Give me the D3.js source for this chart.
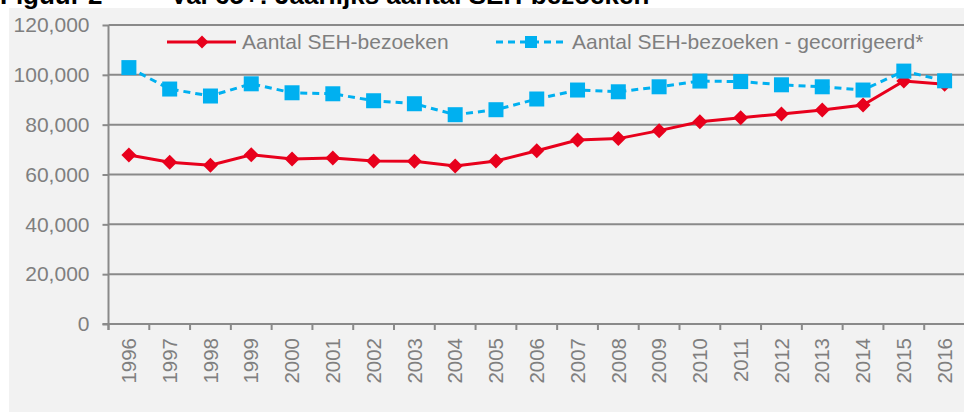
<!DOCTYPE html>
<html><head><meta charset="utf-8">
<script src="https://cdn.jsdelivr.net/npm/d3@7"></script>
<style>html,body{margin:0;padding:0;background:#fff;overflow:hidden}svg{display:block}</style>
</head><body>
<svg id="c" width="964" height="412"></svg>
<script>
const titleParts = ["Figuur 2", "Val 65+: Jaarlijks aantal SEH-bezoeken"];
const years = ["1996","1997","1998","1999","2000","2001","2002","2003","2004","2005","2006","2007","2008","2009","2010","2011","2012","2013","2014","2015","2016"];
const seriesNames = ["Aantal SEH-bezoeken","Aantal SEH-bezoeken - gecorrigeerd*"];
const visits = [67800,64900,63700,67900,66200,66600,65400,65300,63400,65400,69500,73800,74400,77600,81200,82800,84300,85900,87900,97500,96200];
const corrected = [102900,94300,91500,96400,92800,92400,89600,88400,84000,86000,90300,93900,93200,95200,97500,97300,96000,95200,93900,101500,97600];
const yTicks = [0,20000,40000,60000,80000,100000,120000];

const svg = d3.select("#c");
const W = 964, H = 412;
const m = {left:108.5, top:25, right:-1, bottom:88};
const red = "#e8001c", blue = "#00b0f0", grid = "#8a8a8a", txt = "#7f7f7f";
const font = "Liberation Sans, Arial, sans-serif";

svg.append("rect").attr("x",9).attr("y",8).attr("width",W-9).attr("height",H-8).attr("fill","#f2f2f2");
const tt = svg.append("text").attr("y",4).attr("font-family",font).attr("font-weight","bold")
  .attr("font-size",26).attr("fill","#000");
tt.append("tspan").attr("x",0).text(titleParts[0]);
tt.append("tspan").attr("x",163).text(" " + titleParts[1]);

const x = d3.scaleBand().domain(years).range([m.left, W - m.right]).paddingInner(0).paddingOuter(0);
const y = d3.scaleLinear().domain([0,120000]).range([324, m.top]);

// gridlines
svg.append("g").selectAll("line").data(yTicks.filter(d=>d>0)).join("line")
  .attr("x1",m.left).attr("x2",W).attr("y1",d=>y(d)).attr("y2",d=>y(d))
  .attr("stroke",grid).attr("stroke-width",2);

// y axis
const ya = svg.append("g").attr("transform",`translate(${m.left},0)`)
  .call(d3.axisLeft(y).tickValues(yTicks).tickSize(6).tickPadding(13).tickFormat(d3.format(",")));
ya.select(".domain").attr("stroke",grid).attr("stroke-width",2).attr("d",`M0,${y(120000)}V${y(0)+6}`);
ya.selectAll(".tick line").attr("stroke",grid).attr("stroke-width",2);
ya.selectAll("text").attr("font-family",font).attr("font-size",21).attr("fill",txt);

// x axis
const xa = svg.append("g").attr("transform",`translate(0,${y(0)})`)
  .call(d3.axisBottom(x).tickSize(0).tickPadding(0));
xa.select(".domain").attr("stroke",grid).attr("stroke-width",2).attr("d",`M${m.left-6},0H${W}`);
xa.selectAll(".tick text").attr("font-family",font).attr("font-size",20.5).attr("fill",txt)
  .attr("transform","rotate(-90)").attr("text-anchor","end").attr("dy","0.35em").attr("x",-14).attr("y",0);
svg.append("g").selectAll("line").data(years).join("line")
  .attr("x1",d=>x(d)).attr("x2",d=>x(d)).attr("y1",y(0)).attr("y2",y(0)+6)
  .attr("stroke",grid).attr("stroke-width",2);

const cx = d => x(d) + x.bandwidth()/2;
const line = d3.line().x(d=>cx(d[0])).y(d=>y(d[1]));
const redData = years.map((yr,i)=>[yr,visits[i]]);
const blueData = years.map((yr,i)=>[yr,corrected[i]]);

svg.append("path").datum(redData).attr("d",line).attr("fill","none").attr("stroke",red).attr("stroke-width",3);
const diamond = (s) => `M0,${-s}L${s},0L0,${s}L${-s},0Z`;
svg.append("g").selectAll("path").data(redData).join("path")
  .attr("transform",d=>`translate(${cx(d[0])},${y(d[1])})`).attr("d",diamond(7.5)).attr("fill",red);

svg.append("path").datum(blueData).attr("d",line).attr("fill","none").attr("stroke",blue).attr("stroke-width",3).attr("stroke-dasharray","7,5");
svg.append("g").selectAll("rect").data(blueData).join("rect")
  .attr("x",d=>cx(d[0])-7.5).attr("y",d=>y(d[1])-7.5).attr("width",15).attr("height",15).attr("fill",blue);

// legend
const lg = svg.append("g");
const ly = 42;
lg.append("line").attr("x1",167).attr("x2",236).attr("y1",ly).attr("y2",ly).attr("stroke",red).attr("stroke-width",3);
lg.append("path").attr("transform",`translate(202,${ly})`).attr("d",diamond(6.5)).attr("fill",red);
lg.append("text").attr("x",242).attr("y",ly).attr("dy","0.35em").attr("font-family",font).attr("font-size",21).attr("fill",txt).text(seriesNames[0]);
lg.append("line").attr("x1",496).attr("x2",565).attr("y1",ly).attr("y2",ly).attr("stroke",blue).attr("stroke-width",3).attr("stroke-dasharray","7,5");
lg.append("rect").attr("x",525).attr("y",ly-6).attr("width",12).attr("height",12).attr("fill",blue);
lg.append("text").attr("x",572).attr("y",ly).attr("dy","0.35em").attr("font-family",font).attr("font-size",21).attr("fill",txt).text(seriesNames[1]);
</script>
</body></html>
